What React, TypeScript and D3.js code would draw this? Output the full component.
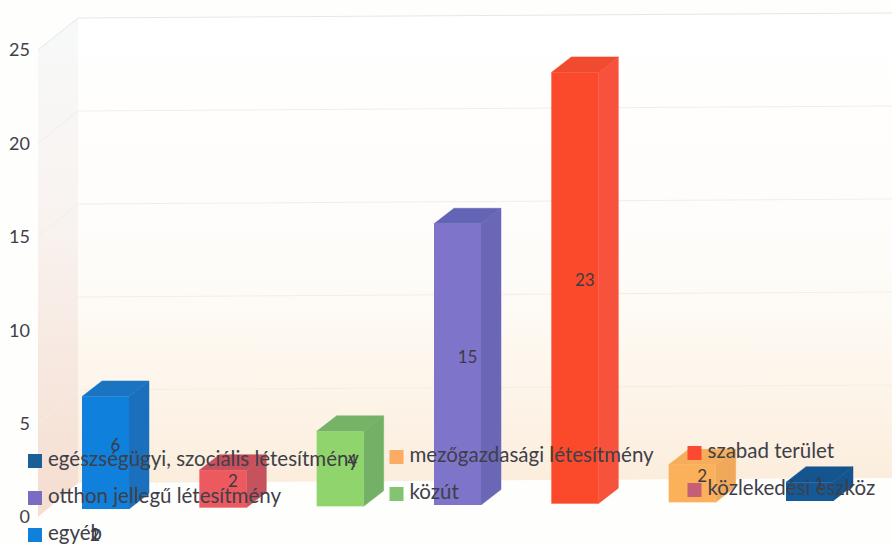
import React from "react";
import * as d3 from "d3";

const seriesNames = ["egyéb", "közlekedési eszköz", "közút", "otthon jellegű létesítmény", "szabad terület", "mezőgazdasági létesítmény", "egészségügyi, szociális létesítmény"];
const seriesValues = [6, 2, 4, 15, 23, 2, 1];
const frontColors = ["#0f80dc", "#ec5a60", "#90d46c", "#7e74ca", "#fb492b", "#fbb05a", "#155a98"];
const sideColors = ["#1a70bc", "#c6525e", "#74b166", "#6a68b6", "#f6523c", "#f0a95a", "#14558f"];
const topColors = ["#1a74c2", "#c8505c", "#76b366", "#6464b6", "#f04b2e", "#f4ad5a", "#14558f"];
const yTicks = [0, 5, 10, 15, 20, 25];
const legendRows = [
  ["egészségügyi, szociális létesítmény", "mezőgazdasági létesítmény", "szabad terület"],
  ["otthon jellegű létesítmény", "közút", "közlekedési eszköz"],
  ["egyéb"],
];
const legendSwatches: Record<string, string> = {
  "egészségügyi, szociális létesítmény": "#1c5e96",
  "mezőgazdasági létesítmény": "#fbab62",
  "szabad terület": "#fb4a30",
  "otthon jellegű létesítmény": "#7a6cc0",
  "közút": "#84c470",
  "közlekedési eszköz": "#c55f78",
  "egyéb": "#0f80dc",
};

const W = 892;
const H = 544;
const font = "Lato, 'Noto Sans', sans-serif";
const textColor = "#3f3f48";

const frontY = d3.scaleLinear().domain([0, 25]).range([517, 50]);
const unit = d3.scaleLinear().domain([0, 1]).range([0, 18.75]);
const barX = d3.scaleLinear().domain([0, 6]).range([82, 786]);
const barBase = d3.scaleLinear().domain([0, 6]).range([509, 501]);
const backY = d3.scaleLinear().domain([0, 25]).range([483, 18]);
const wallDrop = d3.scaleLinear().domain([78, 892]).range([0, -5]);
const barW = 47;
const depthX = 20;
const depthY = 15.5;

const legendColX = [28, 389.5, 687.5];
const legendRowY = [466, 503, 540];
const legendColDrop = [0, -4, -8];

const poly = (pts: [number, number][]) => d3.line()(pts) + "Z";

export default function App() {
  const [wallL, wallR] = [78, W];
  return (
    <svg width={W} height={H} style={{ position: "absolute", left: 0, top: 0, background: "#fefefd" }}>
      <defs>
        <linearGradient id="back" x1="0" y1="0" x2="0" y2="1">
          <stop offset="0" stopColor="#ffffff" />
          <stop offset="0.55" stopColor="#fefcf9" />
          <stop offset="0.8" stopColor="#fdf5ea" />
          <stop offset="1" stopColor="#fbeddc" />
        </linearGradient>
        <linearGradient id="side" x1="0" y1="0" x2="0" y2="1">
          <stop offset="0" stopColor="#f7f9f9" />
          <stop offset="0.4" stopColor="#f9f3f0" />
          <stop offset="1" stopColor="#f5ddcf" />
        </linearGradient>
      </defs>

      <path
        d={poly([
          [wallL, backY(25)],
          [wallR, backY(25) + wallDrop(wallR)],
          [wallR, backY(0) + wallDrop(wallR)],
          [wallL, backY(0)],
        ])}
        fill="url(#back)"
      />
      <path
        d={poly([
          [38, frontY(25)],
          [wallL, backY(25)],
          [wallL, backY(0)],
          [38, frontY(0)],
        ])}
        fill="url(#side)"
      />
      {yTicks.filter((t) => t > 0).map((t) => (
        <path
          key={t}
          fill="none"
          stroke={t === 25 ? "#e4e8e8" : "#f1eeea"}
          strokeWidth={1}
          d={d3.line()([[38, frontY(t)], [wallL, backY(t)], [wallR, backY(t) + wallDrop(wallR)]]) as string}
        />
      ))}
      {yTicks.map((t) => (
        <text key={t} x={30} y={frontY(t)} dy="0.35em" textAnchor="end" fontFamily={font} fontSize={18} fill={textColor}>
          {t}
        </text>
      ))}

      {seriesValues.map((v, i) => {
        const x = barX(i);
        const b = barBase(i);
        const t = b - unit(v);
        return (
          <g key={seriesNames[i]}>
            <path d={poly([[x + barW, b], [x + barW + depthX, b - depthY], [x + barW + depthX, t - depthY], [x + barW, t]])} fill={sideColors[i]} stroke={sideColors[i]} strokeWidth={0.5} />
            <path d={poly([[x, t], [x + depthX, t - depthY], [x + barW + depthX, t - depthY], [x + barW, t]])} fill={topColors[i]} stroke={topColors[i]} strokeWidth={0.5} />
            <rect x={x} y={t} width={barW} height={b - t} fill={frontColors[i]} />
          </g>
        );
      })}

      {seriesValues.map((v, i) => {
        const x = barX(i);
        const b = barBase(i);
        const t = b - unit(v);
        return (
          <text key={i} x={x + (barW + depthX) / 2 + (v === 4 ? 2 : 0)} y={(b + t - depthY) / 2} dy="0.35em" textAnchor="middle" fontFamily={font} fontSize={17} fill="#3c3c44">
            {v}
          </text>
        );
      })}
      {[1, 2].map((v) => (
        <text key={v} x={95} y={535} dy="0.35em" textAnchor="middle" fontFamily={font} fontSize={17} fill="#3c3c44">
          {v}
        </text>
      ))}

      {legendRows.map((row, r) =>
        row.map((name, c) => (
          <g key={name}>
            <rect x={legendColX[c]} y={legendRowY[r] + legendColDrop[c] - 12} width={14} height={14} fill={legendSwatches[name]} />
            <text x={legendColX[c] + 20} y={legendRowY[r] + legendColDrop[c]} fontFamily={font} fontSize={20.5} fill={textColor}>
              {name}
            </text>
          </g>
        ))
      )}
    </svg>
  );
}
